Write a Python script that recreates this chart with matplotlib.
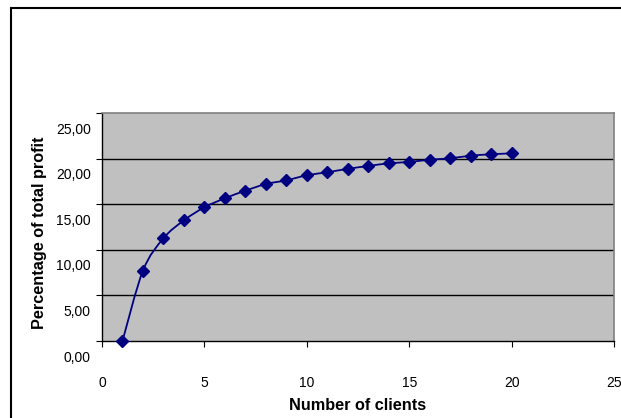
import numpy as np
import matplotlib
matplotlib.use("Agg")
import matplotlib.pyplot as plt
from matplotlib.path import Path
from matplotlib.patches import PathPatch, Rectangle
from matplotlib.transforms import ScaledTranslation

plt.rcParams['font.family'] = ['Liberation Sans', 'DejaVu Sans']

clients = [1, 2, 3, 4, 5, 6, 7, 8, 9, 10, 11, 12, 13, 14, 15, 16, 17, 18, 19, 20]
profit_pct = [0.00, 7.71, 11.26, 13.23, 14.66, 15.65, 16.48, 17.21, 17.62, 18.17,
              18.50, 18.88, 19.19, 19.48, 19.63, 19.88, 20.03, 20.32, 20.47, 20.58]
x_ticks = [0, 5, 10, 15, 20, 25]
y_ticks = [0, 5, 10, 15, 20, 25]
y_labels = ["0,00", "5,00", "10,00", "15,00", "20,00", "25,00"]

W, H = 621, 418
fig = plt.figure(figsize=(W / 100, H / 100), dpi=100)
fig.patch.set_facecolor('white')

# chart area frame (runs off the right and bottom edges)
fig.add_artist(Rectangle((11 / W, -0.1), 2, (H - 8) / H + 0.1, transform=fig.transFigure,
                         fill=False, lw=1.5, ec='black'))

ax = fig.add_axes([102 / W, (H - 341) / H, (614 - 102) / W, (341 - 113) / H])
ax.set_facecolor('#c0c0c0')
ax.set_xlim(0, 25)
ax.set_ylim(0, 25)

for v in y_ticks[1:-1]:
    ax.axhline(v, color='black', lw=1.0, zorder=1)

for side in ('top', 'right'):
    ax.spines[side].set_color('#808080')
    ax.spines[side].set_linewidth(1.2)
for side in ('left', 'bottom'):
    ax.spines[side].set_color('black')
    ax.spines[side].set_linewidth(1.0)

# smoothed line through the points as cubic Bezier segments
x = np.array(clients, dtype=float)
y = np.array(profit_pct, dtype=float)
verts = [(x[0], y[0])]
codes = [Path.MOVETO]
n = len(x)
for i in range(n - 1):
    p0 = np.array([x[max(i - 1, 0)], y[max(i - 1, 0)]])
    p1 = np.array([x[i], y[i]])
    p2 = np.array([x[i + 1], y[i + 1]])
    p3 = np.array([x[min(i + 2, n - 1)], y[min(i + 2, n - 1)]])
    c1 = p1 + (p2 - p0) / 6
    c2 = p2 - (p3 - p1) / 6
    verts += [tuple(c1), tuple(c2), tuple(p2)]
    codes += [Path.CURVE4] * 3
ax.add_patch(PathPatch(Path(verts, codes), fill=False, ec='#000080', lw=1.3, zorder=3))
ax.plot(clients, profit_pct, ls='none', marker='D', ms=6, color='#000080',
        mec='#000080', zorder=4, clip_on=False)

ax.set_xticks(x_ticks)
ax.set_yticks(y_ticks)
ax.set_yticklabels(y_labels)
ax.tick_params(axis='both', direction='out', colors='black', labelsize=10)
ax.tick_params(axis='y', length=4, pad=4)
ax.tick_params(axis='x', length=4, pad=21)
for lab in ax.get_yticklabels():
    lab.set_transform(lab.get_transform() + ScaledTranslation(0, -0.15, fig.dpi_scale_trans))

ax.set_xlabel("Number of clients", fontsize=11.7, fontweight='bold')
ax.set_ylabel("Percentage of total profit", fontsize=11.7, fontweight='bold')
ax.xaxis.set_label_coords(0.5, (341 - 406) / 228)
ax.xaxis.label.set_va('center')
ax.yaxis.set_label_coords((40 - 102) / 512, (341 - 233) / 228)
ax.yaxis.label.set_va('center')

fig.savefig("out.png", dpi=100)
